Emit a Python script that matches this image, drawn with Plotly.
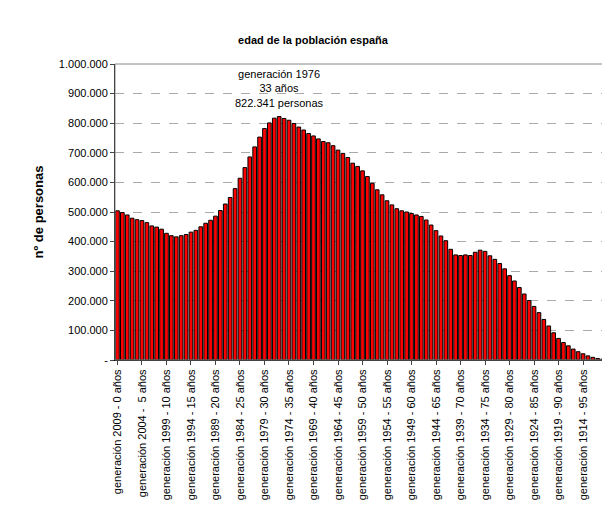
import plotly.graph_objects as go

ages = list(range(101))
values = [504,498,490,479,474,471,464,453,449,442,428,420,416,420,424,432,438,450,462,472,
          486,505,527,549,579,614,650,686,720,753,782,801,817,822.341,816,810,799,787,777,765,
          757,747,738,734,724,709,698,684,665,654,639,620,597,575,558,538,524,511,504,500,
          495,490,485,473,456,437,419,403,374,355,353,355,353,364,371,367,352,340,326,308,
          285,267,245,223,201,181,160,137,115,92,73,59,48,37,28,21,14,9,5,3,7]
values = [v*1000 for v in values]
tick_ages = list(range(0, 101, 5))
tick_labels = [f"generación {2009-a} -  {a} años" if 0 < a < 10 else f"generación {2009-a} - {a} años" for a in range(0, 100, 5)] + ["100 y más años"]
y_ticks = list(range(0, 1000001, 100000))
y_labels = ["-"] + [f"{v:,}".replace(",", ".") for v in y_ticks[1:]]

fig = go.Figure(go.Bar(x=ages, y=values, marker=dict(color="#ff0000", line=dict(color="black", width=1)), width=0.75))
fig.update_layout(
    width=610, height=514, margin=dict(l=107, r=8, t=56, b=162),
    paper_bgcolor="white", plot_bgcolor="white", showlegend=False,
    font=dict(family="Liberation Sans, Arial", size=11, color="black"),
    title=dict(text="<b>edad de la población españa</b>", x=0.5, xanchor="center", y=0.945, font=dict(size=11)),
    xaxis=dict(tickmode="array", tickvals=tick_ages, ticktext=tick_labels, tickangle=-90,
               range=[-0.5, 100.5], showline=True, linecolor="black", ticks="outside", ticklen=4,
               showgrid=False, automargin=False),
    yaxis=dict(tickmode="array", tickvals=y_ticks, ticktext=y_labels, range=[0, 1000000],
               showline=True, linecolor="black", ticks="outside", ticklen=4,
               gridcolor="#aaaaaa", griddash="dash", gridwidth=1, automargin=False,
               title=dict(text="<b>nº de personas</b>", standoff=12)),
)
fig.add_shape(type="rect", xref="paper", yref="paper", x0=0, y0=0, x1=1, y1=1, line=dict(color="#888888", width=1))
fig.add_annotation(x=33, y=1000000, yref="y", xref="x", yanchor="top", showarrow=False,
                   text="generación 1976<br>33 años<br>822.341 personas", font=dict(size=11), yshift=-2)
fig.write_html("out.html")
